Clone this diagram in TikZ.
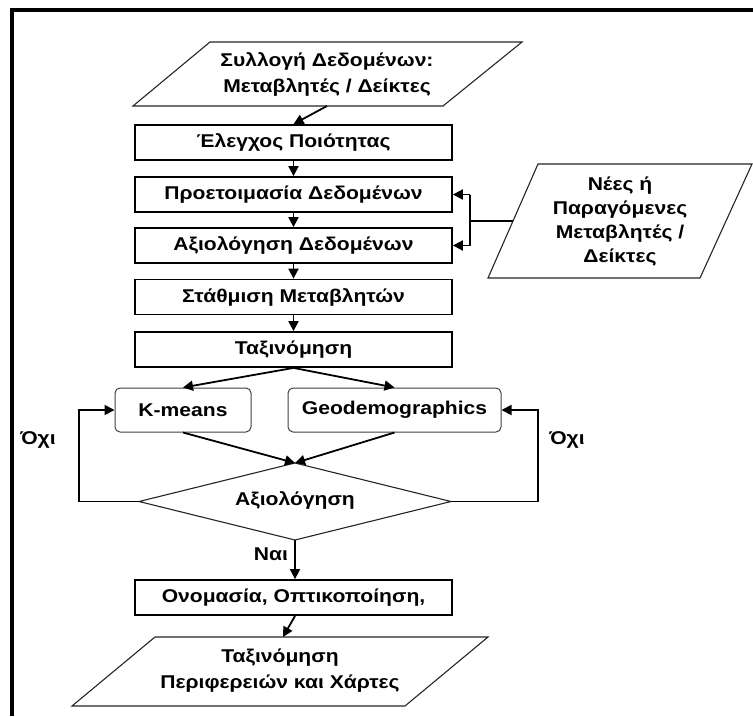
\documentclass[tikz,border=0pt]{standalone}
\usepackage{fontspec}
\setmainfont[FakeStretch=1.14]{Liberation Sans}
\usetikzlibrary{arrows.meta}
\tikzset{
  txt/.style={font=\bfseries\fontsize{18.5}{24}\selectfont, align=center, inner sep=0pt},
  stepbox/.style={txt, draw, line width=1.8pt, minimum width=317pt, minimum height=35pt},
  rbox/.style={txt, draw=black!75, line width=1pt, rounded corners=5pt, minimum height=44pt},
  arr/.style={line width=1.8pt, -{Triangle[length=10pt,width=10pt]}},
  outline/.style={draw=black!85, line width=1.1pt, line join=miter},
  frameline/.style={line width=4pt}
}
\begin{document}
\begin{tikzpicture}[x=1pt,y=-1pt]
\useasboundingbox[fill=white] (0,0) rectangle (753,716);
\draw[frameline] (12,716) -- (12,10) -- (753,10);

% top parallelogram
\coordinate (p1a) at (210,42); \coordinate (p1b) at (522,42);
\coordinate (p1c) at (443,106); \coordinate (p1d) at (133,106);
\draw[outline] (p1a) -- (p1b) -- (p1c) -- (p1d) -- cycle;
\node[txt, text depth=0pt] (p1) at (327,73) {Συλλογή Δεδομένων:\\[2pt]Μεταβλητές / Δείκτες};
\coordinate (p1out) at (327,106);

% process boxes
\node[stepbox] (b1) at (293.5,142.5) {Έλεγχος Ποιότητας};
\node[stepbox] (b2) at (293.5,194.5) {Προετοιμασία Δεδομένων};
\node[stepbox] (b3) at (293.5,245.5) {Αξιολόγηση Δεδομένων};
\node[stepbox] (b4) at (293.5,297) {Στάθμιση Μεταβλητών};
\node[stepbox] (b5) at (293.5,349.5) {Ταξινόμηση};

\draw[arr] (p1out) -- (b1.north);
\draw[arr] (b1) -- (b2);
\draw[arr] (b2) -- (b3);
\draw[arr] (b3) -- (b4);
\draw[arr] (b4) -- (b5);

% right parallelogram
\coordinate (p3a) at (538,164); \coordinate (p3b) at (752,164);
\coordinate (p3c) at (700,278); \coordinate (p3d) at (488,278);
\draw[outline] (p3a) -- (p3b) -- (p3c) -- (p3d) -- cycle;
\node[txt] (p3) at (620,221) {Νέες ή\\Παραγόμενες\\Μεταβλητές /\\Δείκτες};
\coordinate (p3in) at (513,221);
\coordinate (jn) at (470,221);
\draw[line width=1.8pt] (p3in) -- (jn);
\draw[arr] (jn |- b2.east) -- (b2.east);
\draw[arr] (jn |- b3.east) -- (b3.east);
\draw[line width=1.8pt] (jn |- b2.east) -- (jn |- b3.east);

% classification methods
\node[rbox, minimum width=136pt] (km) at (183,410) {K-means};
\node[rbox, minimum width=213pt] (gd) at (394.5,410) {Geodemographics};
\draw[arr] (b5.south) -- (km.north);
\draw[arr] (b5.south) -- (gd.north);

% decision diamond
\coordinate (dT) at (295,463); \coordinate (dR) at (451,501.5);
\coordinate (dB) at (295,540); \coordinate (dL) at (139,501.5);
\draw[outline] (dT) -- (dR) -- (dB) -- (dL) -- cycle;
\node[txt] (d) at (295,500) {Αξιολόγηση};
\draw[arr] (km.south) -- (dT);
\draw[arr] (gd.south) -- (dT);

% loops
\draw[arr] (dL) -- (79,501.5) -- (79,410) -- (km.west);
\draw[arr] (dR) -- (538,501.5) -- (538,410) -- (gd.east);
\node[txt] (no1) at (38,440) {Όχι};
\node[txt] (no2) at (567,440) {Όχι};

% yes branch
\node[stepbox] (b6) at (293.5,597.5) {Ονομασία, Οπτικοποίηση,};
\draw[arr] (dB) -- (b6.north -| dB);
\node[txt] (yes) at (271,554) {Ναι};

% bottom parallelogram
\coordinate (p2a) at (155,637); \coordinate (p2b) at (488,637);
\coordinate (p2c) at (405,706); \coordinate (p2d) at (72,706);
\draw[outline] (p2a) -- (p2b) -- (p2c) -- (p2d) -- cycle;
\node[txt] (p2) at (280,671) {Ταξινόμηση\\[2pt]Περιφερειών και Χάρτες};
\coordinate (p2in) at (283,637);
\draw[arr] (b6.south -| 295,0) -- (p2in);
\end{tikzpicture}
\end{document}
